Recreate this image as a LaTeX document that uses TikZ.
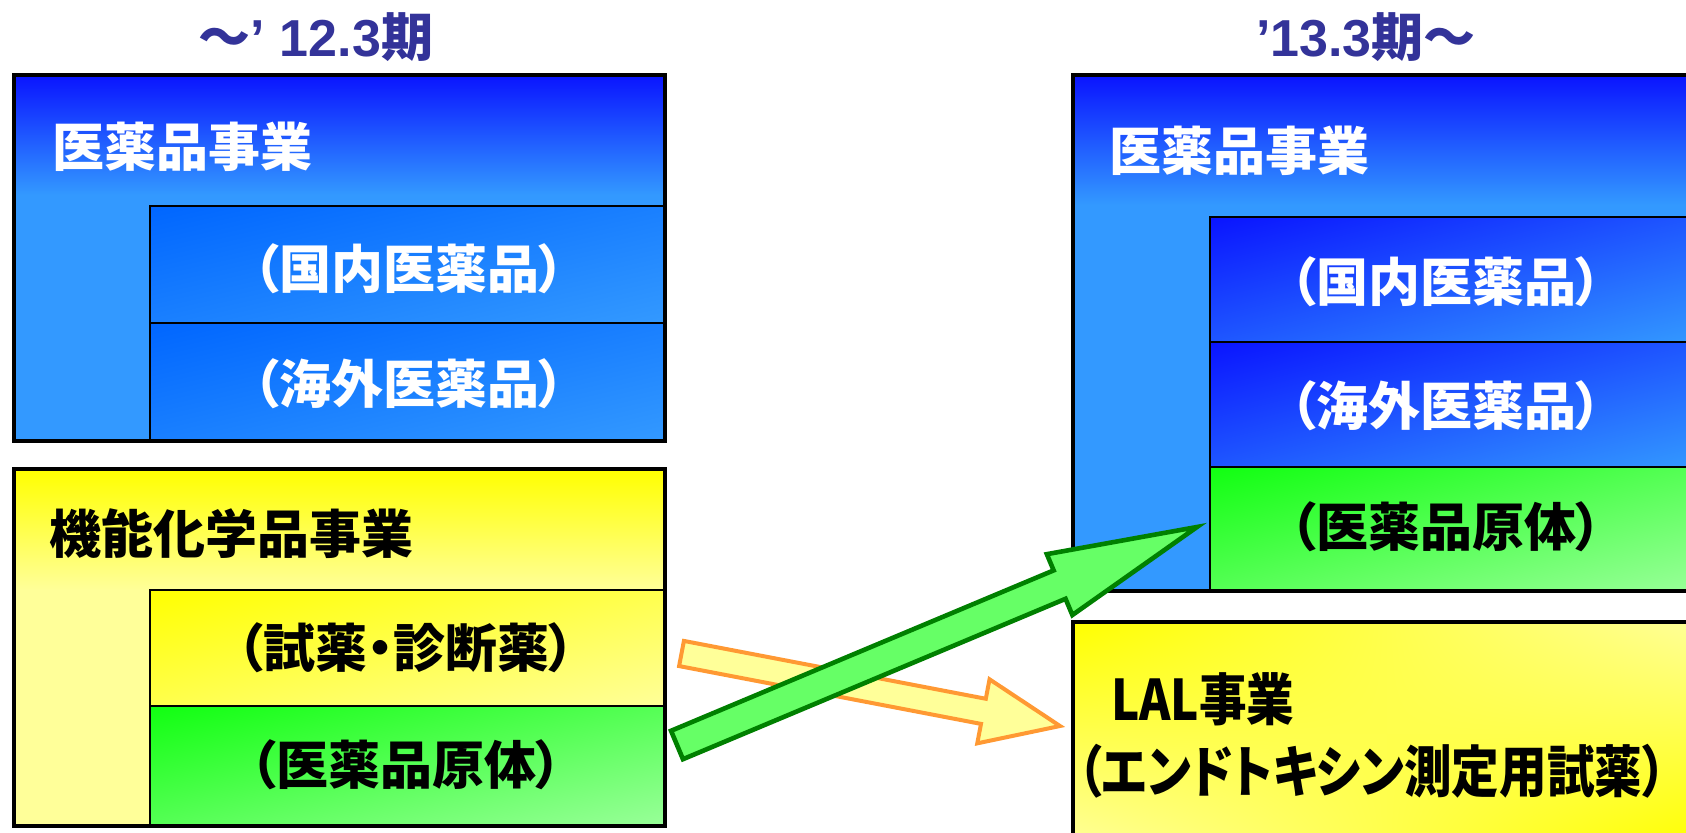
\documentclass[tikz,border=0pt]{standalone}
\usepackage{fontspec}
\usetikzlibrary{calc,shadings}
\newfontfamily\jp{Noto Sans CJK JP}[RawFeature=+palt]
\newfontfamily\lsans{Liberation Sans}
\definecolor{titleblue}{HTML}{333399}
\definecolor{deepblue}{HTML}{0A14FF}
\definecolor{midblue}{HTML}{0066FF}
\definecolor{lightblue}{HTML}{3399FF}
\definecolor{yel}{HTML}{FFFF00}
\definecolor{lightyel}{HTML}{FFFF99}
\definecolor{grn}{HTML}{11FF11}
\definecolor{lightgrn}{HTML}{99FF99}
\definecolor{arrowgrn}{HTML}{66FF66}
\definecolor{darkgrn}{HTML}{008000}
\definecolor{orng}{HTML}{FF9933}
\tikzset{
  outerline/.style={draw=black, line width=2.2pt},
  innerline/.style={draw=black, line width=1pt},
  txt/.style={font=\jp\bfseries\fontsize{26}{30}\selectfont, inner sep=0pt},
  wtxt/.style={txt, text=white},
  ttl/.style={font=\bfseries\fontsize{26}{30}\selectfont, text=titleblue, inner sep=0pt},
  bluerow/.style={upper left=#1, lower right=lightblue, upper right=#1!50!lightblue, lower left=#1!50!lightblue},
  yelrow/.style={upper left=yel, lower right=lightyel, upper right=yel!50!lightyel, lower left=yel!50!lightyel},
  grnrow/.style={upper left=grn, lower right=lightgrn, upper right=grn!50!lightgrn, lower left=grn!50!lightgrn},
  orarrow/.style={fill=lightyel, draw=orng, line width=2pt, line join=miter},
  grarrow/.style={fill=arrowgrn, draw=darkgrn, line width=2.3pt, line join=miter}
}
\begin{document}
\begin{tikzpicture}[x=0.5pt,y=-0.5pt]
\useasboundingbox (0,0) rectangle (1686,833);
\clip (0,0) rectangle (1686,833);

% titles
\node[ttl] (t1) at (316,37) {{\jp ～}{\lsans ’ 12.3}{\jp 期}};
\node[ttl] (t2) at (1366,37) {{\lsans ’13.3}{\jp 期～}};

% ---------- left blue box ----------
\fill[lightblue] (14,75) rectangle (665,441);
\shade[top color=deepblue, bottom color=lightblue] (14,75) rectangle (665,195);
\shade[bluerow=midblue] (150,206) rectangle (665,323);
\shade[bluerow=midblue] (150,323) rectangle (665,441);
\draw[innerline] (665,206) -- (150,206) -- (150,441);
\draw[innerline] (150,323) -- (665,323);
\draw[outerline] (14,75) rectangle (665,441);
\node[wtxt, anchor=west] (lbt) at (52,147) {医薬品事業};
\node[wtxt] (lb1) at (409,269) {（国内医薬品）};
\node[wtxt] (lb2) at (409,384) {（海外医薬品）};

% ---------- left yellow box ----------
\fill[lightyel] (14,469) rectangle (665,826);
\shade[top color=yel, bottom color=lightyel] (14,469) rectangle (665,590);
\shade[yelrow] (150,590) rectangle (665,706);
\shade[grnrow] (150,706) rectangle (665,826);
\draw[innerline] (665,590) -- (150,590) -- (150,826);
\draw[innerline] (150,706) -- (665,706);
\draw[outerline] (14,469) rectangle (665,826);
\node[txt, anchor=west] (lyt) at (49,534) {機能化学品事業};
\node[txt] (ly1) at (406,648) {（試薬・診断薬）};
\node[txt] (ly2) at (406,765) {（医薬品原体）};

% ---------- right blue box ----------
\fill[lightblue] (1073,75) rectangle (1700,591);
\shade[top color=deepblue, bottom color=lightblue] (1073,75) rectangle (1700,205);
\shade[bluerow=deepblue] (1210,217) rectangle (1700,342);
\shade[bluerow=deepblue] (1210,342) rectangle (1700,467);
\shade[grnrow] (1210,467) rectangle (1700,591);
\draw[innerline] (1700,217) -- (1210,217) -- (1210,591);
\draw[innerline] (1210,342) -- (1700,342);
\draw[innerline] (1210,467) -- (1700,467);
\draw[outerline] (1073,75) rectangle (1700,591);
\node[wtxt, anchor=west] (rbt) at (1109,151) {医薬品事業};
\node[wtxt] (rb1) at (1446,282) {（国内医薬品）};
\node[wtxt] (rb2) at (1446,406) {（海外医薬品）};
\node[txt] (rb3) at (1446,527) {（医薬品原体）};

% ---------- right yellow box ----------
\shade[upper left=yel, lower right=yel, upper right=lightyel, lower left=lightyel] (1073,622) rectangle (1700,845);
\draw[outerline] (1073,622) rectangle (1700,845);
\node[txt, anchor=west, font=\jp\bfseries\fontsize{28}{32}\selectfont] (lal) at (1111,699) {\scalebox{0.85}[1]{LAL事業}};
\node[txt, font=\jp\bfseries\fontsize{28}{32}\selectfont] (lal2) at (1372,771) {\scalebox{0.85}[1]{（エンドトキシン測定用試薬）}};

% ---------- arrows ----------
\coordinate (otail) at (681.5,653.5);
\coordinate (otip) at (1060,726);
\coordinate (oneck) at ($(otip)!39pt!(otail)$);
\path[orarrow]
  ($(otail)!6.4pt!90:(otip)$) -- ($(oneck)!6.4pt!-90:(otail)$) -- ($(oneck)!16.3pt!-90:(otail)$)
  -- (otip) -- ($(oneck)!16.3pt!90:(otail)$) -- ($(oneck)!6.4pt!90:(otail)$)
  -- ($(otail)!6.4pt!-90:(otip)$) -- cycle;

\coordinate (gtail) at (677,745);
\coordinate (gtip) at (1197,527);
\coordinate (gneck) at ($(gtip)!74.5pt!(gtail)$);
\path[grarrow]
  ($(gtail)!7.7pt!90:(gtip)$) -- ($(gneck)!7.7pt!-90:(gtail)$) -- ($(gneck)!16.5pt!-90:(gtail)$)
  -- (gtip) -- ($(gneck)!16.5pt!90:(gtail)$) -- ($(gneck)!7.7pt!90:(gtail)$)
  -- ($(gtail)!7.7pt!-90:(gtip)$) -- cycle;
\end{tikzpicture}
\end{document}
